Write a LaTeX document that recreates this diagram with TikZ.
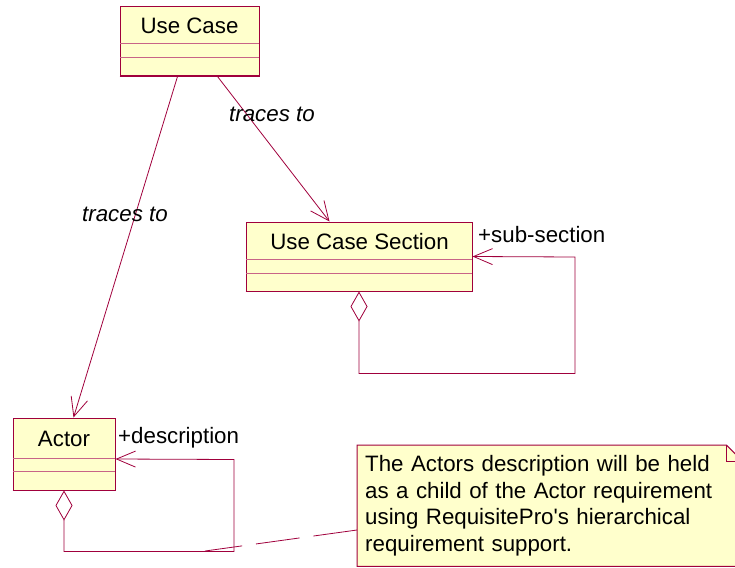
\documentclass[tikz,border=0pt]{standalone}
\usepackage{fontspec}
\setmainfont{Liberation Sans}
\usetikzlibrary{arrows.meta,calc,backgrounds}
\definecolor{umlred}{RGB}{160,0,60}
\definecolor{umlpink}{RGB}{200,100,135}
\definecolor{umlfill}{RGB}{255,255,204}

\begin{document}
\begin{tikzpicture}[x=1pt, y=-1pt,
    every node/.style={font=\fontsize{22.3}{26.7}\selectfont, inner sep=0pt},
    classbox/.style={draw=umlred, fill=umlfill, line width=1pt},
    trace/.style={umlred, line width=0.8pt, -{Straight Barb[length=19pt,width=17pt]}},
    assoc/.style={umlred, line width=0.8pt, {Diamond[length=30pt,width=17pt,fill=white]}-{Straight Barb[length=19pt,width=16pt]}},
    noteline/.style={umlred, line width=0.8pt, dash pattern=on 44pt off 14pt}]
    \useasboundingbox (0,0) rectangle (735,567);

    % classes
    \node[classbox, minimum width=139pt, minimum height=69pt] (usecase) at (189.5,41.5) {};
    \node[classbox, minimum width=226pt, minimum height=69pt] (section) at (359,256.5) {};
    \node[classbox, minimum width=102pt, minimum height=72pt] (actor) at (64,454) {};
    \node (usecase title) at (189.5,25.5) {Use Case};
    \node (section title) at (359.5,241.5) {Use Case Section};
    \node (actor title) at (64,438.5) {Actor};
    \draw[umlpink, line width=0.8pt] (120,43) -- (259,43) (120,57) -- (259,57);
    \draw[umlpink, line width=0.8pt] (246,259) -- (472,259) (246,273) -- (472,273);
    \draw[umlpink, line width=0.8pt] (13,458) -- (115,458) (13,471) -- (115,471);
    \foreach \n in {usecase,section,actor}
        \draw[umlred, line width=1.6pt] (\n.south west) -- (\n.south east) -- (\n.north east);

    % traces to
    \draw[trace] ($(usecase.south west)+(58,0)$) -- ($(actor.north west)+(61,0)$);
    \draw[trace] ($(usecase.south west)+(98,0)$) -- ($(section.north west)+(84,0)$);
    \node[anchor=base west, font=\fontsize{22.3}{26.7}\selectfont\itshape] (trace a) at (229,121.5) {traces to};
    \node[anchor=base west, font=\fontsize{22.3}{26.7}\selectfont\itshape] (trace b) at (82,221.5) {traces to};

    % self associations
    \draw[assoc] (section.south) -- ++(0,82) -| ++(216,-116.5) -- (section.east);
    \node[anchor=base west] (sub label) at (478,242) {+sub-section};
    \draw[assoc] (actor.south) -- ++(0,61) -| ++(170,-92) -- ($(actor.east)+(0,5)$);
    \node[anchor=base west] (descr label) at (118,443) {+description};
    \coordinate (descr loop) at (205,551);

    % note
    \node[anchor=north west, inner xsep=8pt, text width=369pt, minimum width=385pt,
          minimum height=121pt, align=left] (note) at (357,445)
        {The Actors description will be held\\as a child of the Actor requirement\\using RequisitePro\textquotesingle s hierarchical\\requirement support.};
    \begin{scope}[on background layer]
        \draw[umlred, fill=umlfill, line width=1pt] (note.north west) -- ($(note.north east)+(-16,0)$)
            -- ($(note.north east)+(0,16)$) -- (note.south east) -- (note.south west) -- cycle;
        \draw[umlred, line width=0.8pt] ($(note.north east)+(-16,0)$) -- ($(note.north east)+(-16,16)$)
            -- ($(note.north east)+(0,16)$);
    \end{scope}
    \draw[noteline] ($(note.north west)+(0,85)$) -- (descr loop);
\end{tikzpicture}
\end{document}
